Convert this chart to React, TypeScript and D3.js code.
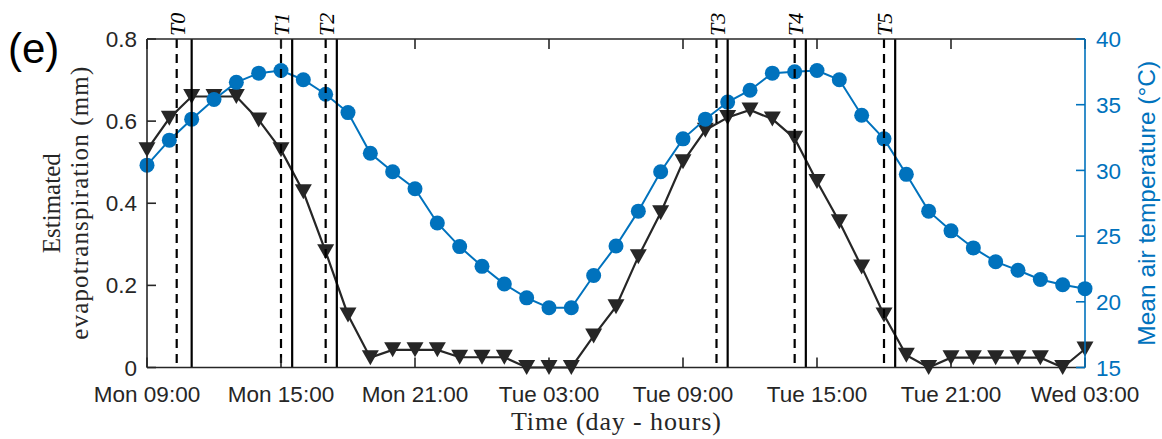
import React from 'react';
import * as d3 from 'd3';

// hourly samples starting Mon 09:00
const startTime = new Date(2000, 0, 3, 9); // 3 Jan 2000 was a Monday
const endTime = new Date(2000, 0, 5, 3);

const etValues = [
  0.53, 0.607, 0.66, 0.66, 0.66, 0.603, 0.53, 0.428, 0.282, 0.128,
  0.024, 0.043, 0.043, 0.043, 0.025, 0.025, 0.025, 0, 0, 0,
  0.077, 0.148, 0.27, 0.377, 0.501, 0.578, 0.609, 0.627, 0.605, 0.558,
  0.453, 0.355, 0.245, 0.128, 0.03, 0, 0.024, 0.024, 0.024, 0.024,
  0.024, 0, 0.045,
];

const tempValues = [
  30.4, 32.3, 33.9, 35.4, 36.7, 37.4, 37.6, 36.9, 35.8, 34.4,
  31.3, 29.9, 28.6, 26.0, 24.2, 22.7, 21.35, 20.3, 19.55, 19.55,
  22.0, 24.25, 26.9, 29.9, 32.4, 33.9, 35.2, 36.1, 37.4, 37.5,
  37.6, 36.9, 34.2, 32.4, 29.7, 26.9, 25.4, 24.1, 23.05, 22.4,
  21.7, 21.3, 21.0,
];

// event markers, hours after Mon 09:00
const eventLabels = ['T0', 'T1', 'T2', 'T3', 'T4', 'T5'];
const dashedHours = [1.33, 6, 8, 25.5, 29, 33];
const solidHours = [2, 6.5, 8.5, 26, 29.5, 33.5];

const leftTicks = [0, 0.2, 0.4, 0.6, 0.8];
const rightTicks = [15, 20, 25, 30, 35, 40];

const W = 1162;
const H = 439;
const BLUE = '#0072BD';
const DARK = '#262626';
const sans = '"Liberation Sans", Arial, sans-serif';
const serif = '"Liberation Serif", "Times New Roman", serif';

export default function App() {
  const x0 = 147, x1 = 1085, yTop = 39, yBot = 367.5;

  const times = etValues.map((_, i) => d3.timeHour.offset(startTime, i));
  const hourToDate = (h: number) => new Date(startTime.getTime() + h * 3600 * 1000);

  const x = d3.scaleTime().domain([startTime, endTime]).range([x0, x1]);
  const yL = d3.scaleLinear().domain([0, 0.8]).range([yBot, yTop]);
  const yR = d3.scaleLinear().domain([15, 40]).range([yBot, yTop]);

  // every 6 h counted from the first sample (09:00, 15:00, 21:00, 03:00)
  const xTicks = d3.timeHour.range(startTime, d3.timeHour.offset(endTime, 1), 6);
  const fmt = d3.timeFormat('%a %H:%M');

  const etLine = d3.line<number>().x((_, i) => x(times[i])).y((d) => yL(d))(etValues) || '';
  const tLine = d3.line<number>().x((_, i) => x(times[i])).y((d) => yR(d))(tempValues) || '';

  const tri = 'M-8.5,-7.5L8.5,-7.5L0,7.5Z';
  const midY = (yTop + yBot) / 2;

  return (
    <svg width={W} height={H} style={{ position: 'absolute', left: 0, top: 0, background: '#fff' }}>
      {/* panel tag */}
      <text x={8} y={63} fontFamily={sans} fontSize={42} fill="#000">(e)</text>

      {/* data */}
      <path d={etLine} fill="none" stroke={DARK} strokeWidth={2.2} />
      {etValues.map((v, i) => (
        <path key={'et' + i} d={tri} transform={`translate(${x(times[i])},${yL(v)})`} fill={DARK} />
      ))}
      <path d={tLine} fill="none" stroke={BLUE} strokeWidth={2} />
      {tempValues.map((v, i) => (
        <circle key={'t' + i} cx={x(times[i])} cy={yR(v)} r={7.5} fill={BLUE} />
      ))}

      {/* event lines */}
      {dashedHours.map((h, i) => (
        <line key={'d' + i} x1={x(hourToDate(h))} x2={x(hourToDate(h))} y1={yTop} y2={yBot}
          stroke="#000" strokeWidth={2.2} strokeDasharray="9,6" />
      ))}
      {solidHours.map((h, i) => (
        <line key={'s' + i} x1={x(hourToDate(h))} x2={x(hourToDate(h))} y1={yTop} y2={yBot}
          stroke="#000" strokeWidth={2.2} />
      ))}
      {dashedHours.map((h, i) => (
        <text key={'l' + i} transform={`translate(${x(hourToDate(h)) + 8},36) rotate(-90)`}
          fontFamily={serif} fontStyle="italic" fontSize={22} fill="#000">{eventLabels[i]}</text>
      ))}

      {/* box */}
      <line x1={x0} x2={x1} y1={yTop} y2={yTop} stroke={DARK} strokeWidth={1.6} />
      <line x1={x0} x2={x1} y1={yBot} y2={yBot} stroke={DARK} strokeWidth={1.6} />
      <line x1={x0} x2={x0} y1={yTop} y2={yBot} stroke={DARK} strokeWidth={1.6} />

      {/* x ticks */}
      {xTicks.map((t, i) => (
        <g key={'xt' + i}>
          <line x1={x(t)} x2={x(t)} y1={yBot} y2={yBot - 10} stroke={DARK} strokeWidth={1.6} />
          <line x1={x(t)} x2={x(t)} y1={yTop} y2={yTop + 10} stroke={DARK} strokeWidth={1.6} />
          <text x={x(t)} y={402} textAnchor="middle" fontFamily={sans} fontSize={22.5} fill={DARK}>{fmt(t)}</text>
        </g>
      ))}

      {/* left y */}
      {leftTicks.map((v, i) => (
        <g key={'yl' + i}>
          <line x1={x0} x2={x0 + 9} y1={yL(v)} y2={yL(v)} stroke={DARK} strokeWidth={1.6} />
          <text x={137} y={yL(v)} dy="0.36em" textAnchor="end" fontFamily={sans} fontSize={22.5} fill={DARK}>{v}</text>
        </g>
      ))}

      {/* right y */}
      <line x1={x1} x2={x1} y1={yTop} y2={yBot} stroke={BLUE} strokeWidth={1.6} />
      {rightTicks.map((v, i) => (
        <g key={'yr' + i}>
          <line x1={x1} x2={x1 - 9} y1={yR(v)} y2={yR(v)} stroke={BLUE} strokeWidth={1.6} />
          <text x={1096} y={yR(v)} dy="0.36em" fontFamily={sans} fontSize={22.5} fill={BLUE}>{v}</text>
        </g>
      ))}

      {/* axis titles */}
      <text transform={`translate(60,${midY}) rotate(-90)`} textAnchor="middle" fontFamily={serif}
        fontSize={25} fill={DARK}>Estimated</text>
      <text transform={`translate(88,${midY}) rotate(-90)`} textAnchor="middle" fontFamily={serif}
        fontSize={25} fill={DARK} textLength={273} lengthAdjust="spacing">evapotranspiration (mm)</text>
      <text transform={`translate(1155,${midY}) rotate(-90)`} textAnchor="middle" fontFamily={sans}
        fontSize={24.5} fill={BLUE}>Mean air temperature (°C)</text>
      <text x={(x0 + x1) / 2} y={430} textAnchor="middle" fontFamily={serif} fontSize={26} fill={DARK}
        textLength={210} lengthAdjust="spacing">Time (day - hours)</text>
    </svg>
  );
}
